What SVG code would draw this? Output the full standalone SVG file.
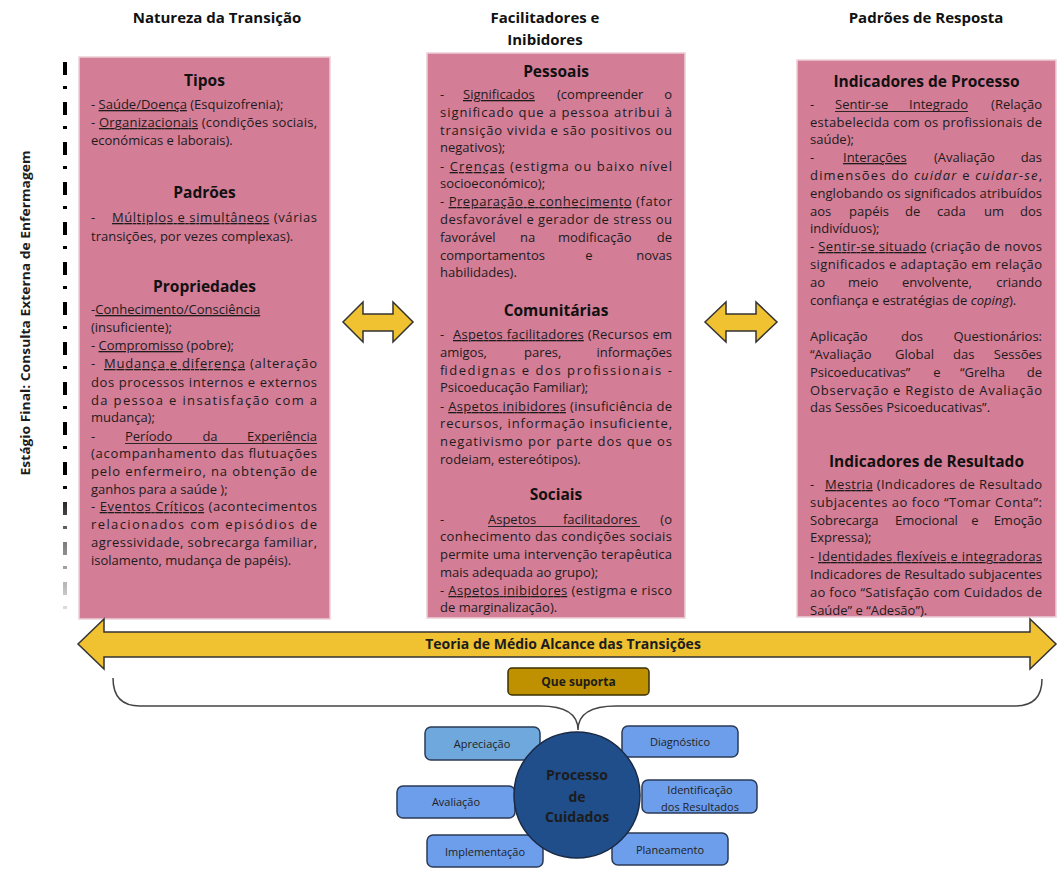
<svg xmlns="http://www.w3.org/2000/svg" width="1063" height="869" viewBox="0 0 1063 869">
<style>
text{font-family:"Open Sans","Liberation Sans",sans-serif;fill:#1c1c1c}
.hd{font-size:15px;font-weight:bold;text-anchor:middle;fill:#111}
.box{fill:#D47D96;stroke:#ecd0d8;stroke-width:1.5}
.h{font-size:15.5px;font-weight:bold;text-anchor:middle;fill:#111}
.b{font-size:13px}
.e{text-anchor:end}
.m{text-anchor:middle}
.u{text-decoration:underline}
.ul{stroke:#1c1c1c;stroke-width:0.9}
.arr{fill:#F0C232;stroke:#333;stroke-width:1.5;stroke-linejoin:miter}
.sb{fill:#6D9EEB;stroke:#2b3a55;stroke-width:1.5}
.st{font-size:11px;text-anchor:middle;fill:#222}
</style>
<defs>
<linearGradient id="fade" gradientUnits="userSpaceOnUse" x1="0" y1="62" x2="0" y2="616">
<stop offset="0" stop-color="#000"/>
<stop offset="0.76" stop-color="#000"/>
<stop offset="0.86" stop-color="#777"/>
<stop offset="1" stop-color="#e6e6e6"/>
</linearGradient>
</defs>
<rect width="1063" height="869" fill="#fff"/>

<g id="headers">
<text class="hd" x="217" y="23">Natureza da Transição</text>
<text class="hd" x="545" y="23">Facilitadores e</text>
<text class="hd" x="545" y="45">Inibidores</text>
<text class="hd" x="926" y="23">Padrões de Resposta</text>
</g>

<g id="stage-label">
<line x1="65" y1="62" x2="65" y2="616" stroke="url(#fade)" stroke-width="4" stroke-dasharray="13 11 3 13"/>
<text transform="translate(30,313) rotate(-90)" text-anchor="middle" font-size="13" font-weight="bold" textLength="325" lengthAdjust="spacingAndGlyphs">Estágio Final: Consulta Externa de Enfermagem</text>
</g>

<g id="natureza">
<rect class="box" x="79" y="57" width="251" height="562"/>
<text class="h" x="204.5" y="86">Tipos</text>
<text class="b" x="91" y="109">- <tspan class="u">Saúde/Doença</tspan> (Esquizofrenia);</text>
<text class="b" x="91" y="127" textLength="226" lengthAdjust="spacing">- <tspan class="u">Organizacionais</tspan> (condições sociais,</text>
<text class="b" x="91" y="145">económicas e laborais).</text>
<text class="h" x="204.5" y="198">Padrões</text>
<text class="b" x="91" y="222">-</text>
<text class="b" x="112" y="222" textLength="205" lengthAdjust="spacing"><tspan class="u">Múltiplos e simultâneos</tspan> (várias</text>
<text class="b" x="91" y="241">transições, por vezes complexas).</text>
<text class="h" x="204.5" y="292">Propriedades</text>
<text class="b" x="91" y="314">-<tspan class="u">Conhecimento/Consciência</tspan></text>
<text class="b" x="91" y="332">(insuficiente);</text>
<text class="b" x="91" y="350">- <tspan class="u">Compromisso</tspan> (pobre);</text>
<text class="b" x="91" y="368">-</text>
<text class="b" x="104" y="368" textLength="213" lengthAdjust="spacing"><tspan class="u">Mudança e diferença</tspan> (alteração</text>
<text class="b" x="91" y="387" textLength="226" lengthAdjust="spacing">dos processos internos e externos</text>
<text class="b" x="91" y="405" textLength="226" lengthAdjust="spacing">da pessoa e insatisfação com a</text>
<text class="b" x="91" y="422">mudança);</text>
<text class="b" x="91" y="441">-</text>
<text class="b" x="125" y="441">Período</text>
<text class="b m" x="210" y="441">da</text>
<text class="b e" x="317" y="441">Experiência</text>
<line class="ul" x1="125" y1="443.5" x2="317" y2="443.5"/>
<text class="b" x="91" y="458" textLength="226" lengthAdjust="spacing">(acompanhamento das flutuações</text>
<text class="b" x="91" y="476" textLength="226" lengthAdjust="spacing">pelo enfermeiro, na obtenção de</text>
<text class="b" x="91" y="494">ganhos para a saúde );</text>
<text class="b" x="91" y="511" textLength="226" lengthAdjust="spacing">- <tspan class="u">Eventos Críticos</tspan> (acontecimentos</text>
<text class="b" x="91" y="529" textLength="226" lengthAdjust="spacing">relacionados com episódios de</text>
<text class="b" x="91" y="547" textLength="226" lengthAdjust="spacing">agressividade, sobrecarga familiar,</text>
<text class="b" x="91" y="565">isolamento, mudança de papéis).</text>
</g>

<g id="facilitadores">
<rect class="box" x="427" y="53" width="258" height="565"/>
<text class="h" x="556" y="77">Pessoais</text>
<text class="b" x="440" y="99">-</text>
<text class="b u" x="463" y="99">Significados</text>
<text class="b" x="557" y="99">(compreender</text>
<text class="b e" x="672" y="99">o</text>
<text class="b" x="440" y="117" textLength="232" lengthAdjust="spacing">significado que a pessoa atribui à</text>
<text class="b" x="440" y="135" textLength="232" lengthAdjust="spacing">transição vivida e são positivos ou</text>
<text class="b" x="440" y="152">negativos);</text>
<text class="b" x="440" y="171" textLength="232" lengthAdjust="spacing">- <tspan class="u">Crenças</tspan> (estigma ou baixo nível</text>
<text class="b" x="440" y="188">socioeconómico);</text>
<text class="b" x="440" y="206" textLength="232" lengthAdjust="spacing">- <tspan class="u">Preparação e conhecimento</tspan> (fator</text>
<text class="b" x="440" y="224" textLength="232" lengthAdjust="spacing">desfavorável e gerador de stress ou</text>
<text class="b" x="440" y="242">favorável</text>
<text class="b" x="520" y="242">na</text>
<text class="b" x="558" y="242">modificação</text>
<text class="b e" x="672" y="242">de</text>
<text class="b" x="440" y="260">comportamentos</text>
<text class="b m" x="589" y="260">e</text>
<text class="b e" x="672" y="260">novas</text>
<text class="b" x="440" y="277">habilidades).</text>
<text class="h" x="556" y="316">Comunitárias</text>
<text class="b" x="440" y="339">-</text>
<text class="b" x="453" y="339" textLength="219" lengthAdjust="spacing"><tspan class="u">Aspetos facilitadores</tspan> (Recursos em</text>
<text class="b" x="440" y="357">amigos,</text>
<text class="b" x="524" y="357">pares,</text>
<text class="b e" x="672" y="357">informações</text>
<text class="b" x="440" y="375" textLength="232" lengthAdjust="spacing">fidedignas e dos profissionais -</text>
<text class="b" x="440" y="392">Psicoeducação Familiar);</text>
<text class="b" x="440" y="411" textLength="232" lengthAdjust="spacing">- <tspan class="u">Aspetos inibidores</tspan> (insuficiência de</text>
<text class="b" x="440" y="428" textLength="232" lengthAdjust="spacing">recursos, informação insuficiente,</text>
<text class="b" x="440" y="446" textLength="232" lengthAdjust="spacing">negativismo por parte dos que os</text>
<text class="b" x="440" y="464">rodeiam, estereótipos).</text>
<text class="h" x="556" y="500">Sociais</text>
<text class="b" x="440" y="524">-</text>
<text class="b" x="488" y="524">Aspetos</text>
<text class="b" x="563" y="524">facilitadores</text>
<text class="b e" x="672" y="524">(o</text>
<line class="ul" x1="488" y1="526.5" x2="640" y2="526.5"/>
<text class="b" x="440" y="541" textLength="232" lengthAdjust="spacing">conhecimento das condições sociais</text>
<text class="b" x="440" y="559" textLength="232" lengthAdjust="spacing">permite uma intervenção terapêutica</text>
<text class="b" x="440" y="577">mais adequada ao grupo);</text>
<text class="b" x="440" y="595" textLength="232" lengthAdjust="spacing">- <tspan class="u">Aspetos inibidores</tspan> (estigma e risco</text>
<text class="b" x="440" y="612">de marginalização).</text>
</g>

<g id="padroes">
<rect class="box" x="797" y="60" width="259" height="557"/>
<text class="h" x="926.5" y="87">Indicadores de Processo</text>
<text class="b" x="810" y="109">-</text>
<text class="b" x="835" y="109">Sentir-se</text>
<text class="b e" x="968" y="109">Integrado</text>
<line class="ul" x1="835" y1="111.5" x2="968" y2="111.5"/>
<text class="b e" x="1042" y="109">(Relação</text>
<text class="b" x="810" y="127" textLength="232" lengthAdjust="spacing">estabelecida com os profissionais de</text>
<text class="b" x="810" y="144">saúde);</text>
<text class="b" x="810" y="162">-</text>
<text class="b u" x="843" y="162">Interações</text>
<text class="b" x="934" y="162">(Avaliação</text>
<text class="b e" x="1042" y="162">das</text>
<text class="b" x="810" y="180" textLength="232" lengthAdjust="spacing">dimensões do <tspan font-style="italic">cuidar</tspan> e <tspan font-style="italic">cuidar-se</tspan>,</text>
<text class="b" x="810" y="198" textLength="232" lengthAdjust="spacing">englobando os significados atribuídos</text>
<text class="b" x="810" y="216">aos</text>
<text class="b" x="849" y="216">papéis</text>
<text class="b" x="905" y="216">de</text>
<text class="b" x="937" y="216">cada</text>
<text class="b" x="984" y="216">um</text>
<text class="b e" x="1042" y="216">dos</text>
<text class="b" x="810" y="233">indivíduos);</text>
<text class="b" x="810" y="251" textLength="232" lengthAdjust="spacing">- <tspan class="u">Sentir-se situado</tspan> (criação de novos</text>
<text class="b" x="810" y="269" textLength="232" lengthAdjust="spacing">significados e adaptação em relação</text>
<text class="b" x="810" y="287">ao</text>
<text class="b" x="848" y="287">meio</text>
<text class="b" x="902" y="287">envolvente,</text>
<text class="b e" x="1042" y="287">criando</text>
<text class="b" x="810" y="305">confiança e estratégias de <tspan font-style="italic">coping</tspan>).</text>
<text class="b" x="810" y="341">Aplicação</text>
<text class="b" x="901" y="341">dos</text>
<text class="b e" x="1042" y="341">Questionários:</text>
<text class="b" x="810" y="359">“Avaliação</text>
<text class="b" x="895" y="359">Global</text>
<text class="b" x="953" y="359">das</text>
<text class="b e" x="1042" y="359">Sessões</text>
<text class="b" x="810" y="377">Psicoeducativas”</text>
<text class="b m" x="937" y="377">e</text>
<text class="b" x="960" y="377">“Grelha</text>
<text class="b e" x="1042" y="377">de</text>
<text class="b" x="810" y="395" textLength="232" lengthAdjust="spacing">Observação e Registo de Avaliação</text>
<text class="b" x="810" y="412">das Sessões Psicoeducativas”.</text>
<text class="h" x="926.5" y="467">Indicadores de Resultado</text>
<text class="b" x="810" y="489">-</text>
<text class="b" x="825" y="489" textLength="217" lengthAdjust="spacing"><tspan class="u">Mestria</tspan> (Indicadores de Resultado</text>
<text class="b" x="810" y="507" textLength="232" lengthAdjust="spacing">subjacentes ao foco “Tomar Conta”:</text>
<text class="b" x="810" y="525">Sobrecarga</text>
<text class="b" x="895" y="525">Emocional</text>
<text class="b m" x="975" y="525">e</text>
<text class="b e" x="1042" y="525">Emoção</text>
<text class="b" x="810" y="542">Expressa);</text>
<text class="b" x="810" y="561" textLength="232" lengthAdjust="spacing">- <tspan class="u">Identidades flexíveis e integradoras</tspan></text>
<text class="b" x="810" y="579" textLength="232" lengthAdjust="spacing">Indicadores de Resultado subjacentes</text>
<text class="b" x="810" y="597" textLength="232" lengthAdjust="spacing">ao foco “Satisfação com Cuidados de</text>
<text class="b" x="810" y="615">Saúde” e “Adesão”).</text>
</g>

<g id="connectors">
<path class="arr" d="M343,322 L363,302 L363,314 L393,314 L393,302 L413,322 L393,342 L393,331 L363,331 L363,342 Z"/>
<path class="arr" d="M705,322 L726,302 L726,314 L756,314 L756,302 L777,322 L756,342 L756,331 L726,331 L726,342 Z"/>
<path d="M113,678 Q113,706 140,706 L540,706 Q578,706 578,730 Q578,706 616,706 L1015,706 Q1042,706 1042,679" fill="none" stroke="#444" stroke-width="1.5"/>
</g>

<g id="teoria">
<path class="arr" d="M78,644 L104,619 L104,632 L1030,632 L1030,619 L1056,644 L1030,669 L1030,657 L104,657 L104,669 Z"/>
<text x="563" y="649" text-anchor="middle" font-size="14" font-weight="bold" fill="#111">Teoria de Médio Alcance das Transições</text>
</g>

<g id="que-suporta">
<rect x="508" y="668" width="141" height="27" rx="4" fill="#BF9000" stroke="#3a3000" stroke-width="1.5"/>
<text x="578.5" y="686" text-anchor="middle" font-size="12" font-weight="bold" fill="#111">Que suporta</text>
</g>

<g id="apreciacao">
<rect x="425" y="727" width="115" height="33" rx="6" fill="#6FA8DC" stroke="#2b3a55" stroke-width="1.5"/>
<text class="st" x="482" y="748">Apreciação</text>
</g>
<g id="diagnostico">
<rect class="sb" x="622" y="726" width="116" height="31" rx="6"/>
<text class="st" x="680" y="746">Diagnóstico</text>
</g>
<g id="avaliacao">
<rect class="sb" x="397" y="786" width="118" height="32" rx="6"/>
<text class="st" x="456" y="806">Avaliação</text>
</g>
<g id="identificacao">
<rect class="sb" x="642" y="780" width="115" height="33" rx="6"/>
<text class="st" x="700" y="794">Identificação</text>
<text class="st" x="700" y="811">dos Resultados</text>
</g>
<g id="implementacao">
<rect class="sb" x="427" y="835" width="116" height="32" rx="6"/>
<text class="st" x="485" y="856">Implementação</text>
</g>
<g id="planeamento">
<rect class="sb" x="612" y="833" width="116" height="32" rx="6"/>
<text class="st" x="670" y="854">Planeamento</text>
</g>
<g id="processo">
<circle cx="577" cy="795" r="63" fill="#1F4E8A" stroke="#1a2a45" stroke-width="1.5"/>
<text x="577" y="780" text-anchor="middle" font-size="14" font-weight="bold" fill="#0c1424">Processo</text>
<text x="577" y="802" text-anchor="middle" font-size="14" font-weight="bold" fill="#0c1424">de</text>
<text x="577" y="822" text-anchor="middle" font-size="14" font-weight="bold" fill="#0c1424">Cuidados</text>
</g>
</svg>
